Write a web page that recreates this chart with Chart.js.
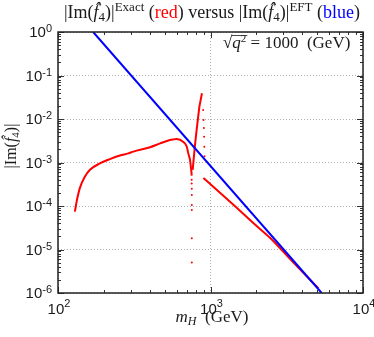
<!DOCTYPE html>
<html>
<head>
<meta charset="utf-8">
<script src="https://cdn.jsdelivr.net/npm/chart.js@4.4.0/dist/chart.umd.min.js"></script>
<style>
  html, body { margin: 0; padding: 0; background: #fff; }
  canvas { display: block; }
</style>
</head>
<body>
<canvas id="ImChart" width="374" height="337"></canvas>
<script>
// axis ranges, mH in GeV
const massRange = [100, 10000]
const imRange = [1e-6, 1]
const xDecades = [2, 3, 4]
const yDecades = [-6, -5, -4, -3, -2, -1, 0]

// |Im f4| EFT (blue), straight line on log-log
const eftMass = [170, 5360]
const eftIm = [1, 1e-6]

// |Im f4| exact (red) - low mass branch down to the dip
const exactLowMass = [129, 132.5, 139, 150, 162, 188, 219, 255, 289, 312, 401, 467, 542, 570, 600, 664, 699, 715, 734, 741, 750, 753]
const exactLowIm = [7.4e-5, 1.26e-4, 2.57e-4, 4.7e-4, 6.8e-4, 9.5e-4, 1.2e-3, 1.45e-3, 1.62e-3, 1.78e-3, 2.24e-3, 2.75e-3, 3.3e-3, 3.4e-3, 3.45e-3, 2.95e-3, 2.3e-3, 1.62e-3, 1.15e-3, 8.7e-4, 6.0e-4, 5.0e-4]
// sparse points inside the dip
const exactDipMass = [753, 753, 754, 754, 754, 754, 754, 754]
const exactDipIm = [4.0e-4, 3.3e-4, 2.5e-4, 1.78e-4, 1.05e-4, 8.1e-5, 1.82e-5, 5.0e-6]
// rising branch up to the spike
const exactRiseMass = [764, 791, 811, 845, 879]
const exactRiseIm = [6.8e-4, 2.5e-3, 5.6e-3, 1.9e-2, 3.9e-2]
// sparse points falling off the spike
const exactFallMass = [895, 900, 905, 908, 911, 913]
const exactFallIm = [1.6e-2, 9.5e-3, 6.2e-3, 3.9e-3, 2.3e-3, 1.4e-3]
// high mass branch
const exactHighMass = [898, 1000, 1413, 2000, 2455, 3500, 5093]
const exactHighIm = [4.4e-4, 3.16e-4, 1.07e-4, 3.5e-5, 1.86e-5, 5.0e-6, 1.29e-6]

const RED = '#ff0000'
const BLUE = '#0000ff'
const INK = '#1a1a1a'
const SERIF = '"Liberation Serif", "DejaVu Serif", serif'
const SANS = '"Liberation Sans", Arial, sans-serif'

function toPoints(xs, ys) {
    return xs.map((x, i) => ({ x: x, y: ys[i] }))
}

function isDecade(v) {
    let l = Math.log10(v)
    return Math.abs(l - Math.round(l)) < 1e-6
}

// draw a row of text pieces (fonts, colours, sub/superscripts)
function drawRuns(ctx, runs, x, y, align) {
    let total = 0
    runs.forEach(r => {
        ctx.font = r.font
        r.w = ctx.measureText(r.t).width
        total += r.w
    })
    let cx = x
    if (align === 'center') cx = x - total / 2
    if (align === 'right') cx = x - total
    ctx.textAlign = 'left'
    ctx.textBaseline = 'alphabetic'
    runs.forEach(r => {
        ctx.font = r.font
        ctx.fillStyle = r.color || INK
        ctx.fillText(r.t, cx, y + (r.dy || 0))
        if (r.hat) {
            ctx.textAlign = 'center'
            ctx.fillText('\u02C6', cx + r.w / 2 + 1.5, y - 3)
            ctx.textAlign = 'left'
        }
        cx += r.w
    })
    return cx
}

function imRuns(size) {
    const n = size + 'px ' + SERIF
    const it = 'italic ' + size + 'px ' + SERIF
    const sm = Math.round(size * 0.7) + 'px ' + SERIF
    return [
        { t: '|Im(', font: n },
        { t: 'f', font: it, hat: true },
        { t: '4', font: sm, dy: 3 },
        { t: ')|', font: n }
    ]
}

const framePlugin = {
    id: 'frame',
    afterDraw(chart) {
        const ctx = chart.ctx
        const a = chart.chartArea
        const xs = chart.scales.x
        const ys = chart.scales.y
        ctx.save()

        // inward tick marks on all four sides
        ctx.strokeStyle = '#333'
        ctx.lineWidth = 1
        ctx.beginPath()
        for (let d = xDecades[0]; d <= xDecades[xDecades.length - 1]; d++) {
            for (let m = 1; m <= 9; m++) {
                let v = m * Math.pow(10, d)
                if (v > massRange[1]) break
                let px = Math.round(xs.getPixelForValue(v)) + 0.5
                let len = m === 1 ? 6 : 3
                ctx.moveTo(px, a.bottom); ctx.lineTo(px, a.bottom - len)
                ctx.moveTo(px, a.top); ctx.lineTo(px, a.top + len)
            }
        }
        for (let d = yDecades[0]; d <= yDecades[yDecades.length - 1]; d++) {
            for (let m = 1; m <= 9; m++) {
                let v = m * Math.pow(10, d)
                if (v > imRange[1]) break
                let py = Math.round(ys.getPixelForValue(v)) + 0.5
                let len = m === 1 ? 6 : 3
                ctx.moveTo(a.left, py); ctx.lineTo(a.left + len, py)
                ctx.moveTo(a.right, py); ctx.lineTo(a.right - len, py)
            }
        }
        ctx.stroke()

        // frame
        ctx.strokeStyle = '#222'
        ctx.lineWidth = 1.5
        ctx.strokeRect(a.left, a.top, a.right - a.left, a.bottom - a.top)

        // x tick labels 10^n
        xDecades.forEach(d => {
            let px = xs.getPixelForValue(Math.pow(10, d))
            drawRuns(ctx, [
                { t: '10', font: '15px ' + SANS },
                { t: String(d), font: '11px ' + SANS, dy: -7 }
            ], px + 1, a.bottom + 21, 'center')
        })
        // y tick labels 10^n
        yDecades.forEach(d => {
            let py = ys.getPixelForValue(Math.pow(10, d))
            drawRuns(ctx, [
                { t: '10', font: '15px ' + SANS },
                { t: String(d), font: '11px ' + SANS, dy: -5 }
            ], 52, py + 5, 'right')
        })

        // title
        const n18 = '18px ' + SERIF
        const s13 = '13px ' + SERIF
        let title = imRuns(18)
            .concat([{ t: 'Exact', font: s13, dy: -7 }, { t: ' (', font: n18 },
                     { t: 'red', font: n18, color: RED }, { t: ') versus ', font: n18 }])
            .concat(imRuns(18))
            .concat([{ t: 'EFT', font: s13, dy: -7 }, { t: ' (', font: n18 },
                     { t: 'blue', font: n18, color: BLUE }, { t: ')', font: n18 }])
        drawRuns(ctx, title, 212, 18, 'center')

        // x axis title
        const n17 = '17px ' + SERIF
        drawRuns(ctx, [
            { t: 'm', font: 'italic 17px ' + SERIF },
            { t: 'H', font: 'italic 12px ' + SERIF, dy: 3 },
            { t: '  (GeV)', font: n17 }
        ], 212, 322, 'center')

        // y axis title, rotated
        ctx.save()
        ctx.translate(16, 146)
        ctx.rotate(-Math.PI / 2)
        drawRuns(ctx, imRuns(16), 0, 0, 'center')
        ctx.restore()

        // sqrt(q^2) = 1000 (GeV) label
        let x0 = 223
        let base = 48
        let end = drawRuns(ctx, [{ t: '\u221A', font: n17 }], x0, base, 'left')
        let after = drawRuns(ctx, [
            { t: 'q', font: 'italic 17px ' + SERIF },
            { t: '2', font: '11px ' + SERIF, dy: -6 }
        ], end, base, 'left')
        ctx.strokeStyle = INK
        ctx.lineWidth = 0.8
        ctx.beginPath()
        ctx.moveTo(end - 0.5, 35.5)
        ctx.lineTo(after + 1, 35.5)
        ctx.stroke()
        drawRuns(ctx, [{ t: ' = 1000  (GeV)', font: n17 }], after, base, 'left')

        ctx.restore()
    }
}

const gridColor = (c) => isDecade(c.tick.value) ? '#b0b0b0' : 'rgba(0,0,0,0)'

const imChart = new Chart(document.getElementById('ImChart'), {
    type: 'scatter',
    data: {
        datasets: [
            {
                label: 'EFT',
                data: toPoints(eftMass, eftIm),
                showLine: true,
                borderColor: BLUE,
                borderWidth: 2,
                pointRadius: 0,
                order: 0
            },
            {
                label: 'Exact low',
                data: toPoints(exactLowMass, exactLowIm),
                showLine: true,
                borderColor: RED,
                borderWidth: 2,
                pointRadius: 0,
                cubicInterpolationMode: 'monotone',
                order: 1
            },
            {
                label: 'Exact dip',
                data: toPoints(exactDipMass, exactDipIm),
                showLine: false,
                pointRadius: 1,
                pointBorderWidth: 0,
                pointBackgroundColor: RED,
                order: 1
            },
            {
                label: 'Exact rise',
                data: toPoints(exactRiseMass, exactRiseIm),
                showLine: true,
                borderColor: RED,
                borderWidth: 2,
                pointRadius: 0,
                order: 1
            },
            {
                label: 'Exact fall',
                data: toPoints(exactFallMass, exactFallIm),
                showLine: false,
                pointRadius: 1,
                pointBorderWidth: 0,
                pointBackgroundColor: RED,
                order: 1
            },
            {
                label: 'Exact high',
                data: toPoints(exactHighMass, exactHighIm),
                showLine: true,
                borderColor: RED,
                borderWidth: 2,
                pointRadius: 0,
                cubicInterpolationMode: 'monotone',
                order: 1
            }
        ]
    },
    options: {
        responsive: false,
        animation: false,
        devicePixelRatio: 1,
        layout: { padding: { left: 58, right: 11, top: 32, bottom: 44 } },
        plugins: {
            legend: { display: false },
            tooltip: { enabled: false }
        },
        scales: {
            x: {
                type: 'logarithmic',
                min: massRange[0],
                max: massRange[1],
                ticks: { display: false },
                grid: { drawTicks: false, color: gridColor, lineWidth: 1 },
                border: { display: false, dash: [1, 2] }
            },
            y: {
                type: 'logarithmic',
                min: imRange[0],
                max: imRange[1],
                ticks: { display: false },
                grid: { drawTicks: false, color: gridColor, lineWidth: 1 },
                border: { display: false, dash: [1, 2] }
            }
        }
    },
    plugins: [framePlugin]
})
</script>
</body>
</html>
